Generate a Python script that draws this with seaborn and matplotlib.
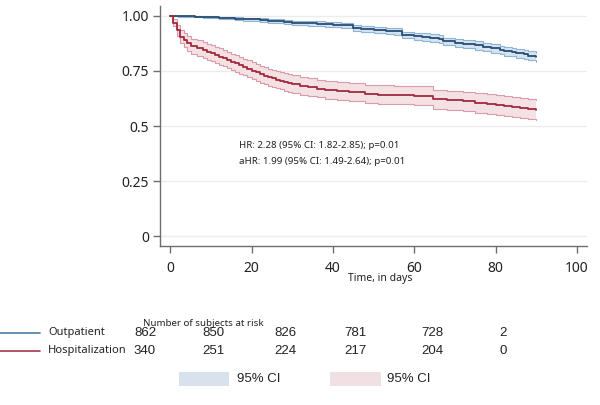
import matplotlib
matplotlib.use("Agg")
import matplotlib.pyplot as plt
import seaborn as sns
import pandas as pd
from matplotlib.patches import Rectangle
from matplotlib.lines import Line2D

# ---------------- data ----------------
groups = ["Outpatient", "Hospitalization"]

out_t = [0, 2, 4, 6, 8, 10, 12, 14, 16, 18, 20, 22, 24, 26, 28, 30, 32, 34, 36, 38, 40, 42, 45, 47,
         50, 53, 55, 57, 60, 62, 64, 66, 67, 70, 72, 75, 77, 79, 81, 82, 84, 85, 87, 88, 90]
out_s = [1.0, 0.999, 0.998, 0.997, 0.995, 0.994, 0.992, 0.990, 0.988, 0.986, 0.984, 0.982, 0.979, 0.976,
         0.973, 0.970, 0.969, 0.967, 0.965, 0.963, 0.960, 0.957, 0.945, 0.941, 0.937, 0.933, 0.930, 0.914,
         0.908, 0.905, 0.900, 0.896, 0.884, 0.878, 0.873, 0.866, 0.860, 0.852, 0.846, 0.840, 0.836, 0.830,
         0.825, 0.819, 0.812]
out_lo = [1.0, 0.997, 0.995, 0.993, 0.990, 0.989, 0.986, 0.984, 0.981, 0.979, 0.976, 0.974, 0.970, 0.967,
          0.963, 0.960, 0.958, 0.956, 0.954, 0.951, 0.948, 0.944, 0.931, 0.927, 0.922, 0.918, 0.915, 0.898,
          0.891, 0.888, 0.883, 0.879, 0.866, 0.860, 0.855, 0.847, 0.841, 0.833, 0.826, 0.820, 0.816, 0.810,
          0.805, 0.798, 0.791]
out_hi = [1.0, 1.0, 1.0, 0.999, 0.998, 0.997, 0.996, 0.995, 0.994, 0.992, 0.990, 0.989, 0.987, 0.984,
          0.982, 0.979, 0.979, 0.977, 0.975, 0.974, 0.971, 0.969, 0.958, 0.954, 0.951, 0.947, 0.944, 0.929,
          0.924, 0.921, 0.916, 0.912, 0.901, 0.895, 0.890, 0.884, 0.878, 0.871, 0.865, 0.859, 0.855, 0.849,
          0.845, 0.839, 0.832]

hosp_t = [0, 0.8, 1.6, 2.5, 3.3, 4.2, 5, 6.5, 8, 9, 10, 11, 12, 13, 14, 15, 16, 17, 18, 19, 20, 21,
          22, 23, 24, 25, 26, 27, 28, 29, 30, 32, 34, 36, 38, 41, 44, 48, 51, 55, 60, 64.6, 68, 72, 75,
          78, 80, 82, 84, 86, 88, 90]
hosp_s = [1.0, 0.97, 0.935, 0.905, 0.89, 0.875, 0.862, 0.855, 0.845, 0.838, 0.830, 0.822, 0.815, 0.808,
          0.80, 0.792, 0.784, 0.776, 0.768, 0.760, 0.752, 0.743, 0.736, 0.729, 0.722, 0.716, 0.711, 0.706,
          0.70, 0.695, 0.69, 0.683, 0.676, 0.670, 0.665, 0.659, 0.653, 0.647, 0.643, 0.640, 0.638, 0.621,
          0.617, 0.612, 0.606, 0.600, 0.595, 0.590, 0.586, 0.582, 0.577, 0.573]
hosp_hi = [1.0, 0.985, 0.96, 0.935, 0.922, 0.908, 0.896, 0.89, 0.88, 0.874, 0.866, 0.858, 0.852, 0.845,
           0.837, 0.829, 0.821, 0.813, 0.806, 0.798, 0.79, 0.781, 0.774, 0.767, 0.760, 0.754, 0.749, 0.744,
           0.739, 0.734, 0.73, 0.723, 0.716, 0.710, 0.705, 0.700, 0.694, 0.688, 0.684, 0.682, 0.680, 0.664,
           0.660, 0.655, 0.650, 0.644, 0.639, 0.635, 0.631, 0.627, 0.622, 0.618]
hosp_lo = [1.0, 0.955, 0.91, 0.875, 0.858, 0.842, 0.828, 0.82, 0.81, 0.802, 0.794, 0.786, 0.779, 0.771,
           0.763, 0.755, 0.747, 0.738, 0.730, 0.722, 0.714, 0.705, 0.697, 0.690, 0.683, 0.677, 0.672, 0.667,
           0.661, 0.656, 0.65, 0.643, 0.636, 0.630, 0.624, 0.618, 0.612, 0.606, 0.601, 0.598, 0.595, 0.577,
           0.573, 0.567, 0.561, 0.555, 0.550, 0.545, 0.541, 0.536, 0.531, 0.526]

risk_out = [862, 850, 826, 781, 728, 2]
risk_hosp = [340, 251, 224, 217, 204, 0]

x_ticks = [0, 20, 40, 60, 80, 100]
y_ticks = [0, 0.25, 0.5, 0.75, 1.0]
y_labels = ["0", "0.25", "0.5", "0.75", "1.00"]
annot_lines = ["HR: 2.28 (95% CI: 1.82-2.85); p=0.01", "aHR: 1.99 (95% CI: 1.49-2.64); p=0.01"]
x_label = "Time, in days"
risk_title = "Number of subjects at risk"
ci_label = "95% CI"

# ---------------- style ----------------
sns.set_theme(style="white")
plt.rcParams["font.family"] = ["Noto Sans", "DejaVu Sans"]
NUMFONT = ["Liberation Sans Narrow", "Liberation Sans", "DejaVu Sans"]

blue_line, blue_fill, blue_edge = "#2b4c73", "#d3e3f0", "#8fb5d6"
red_line, red_fill, red_edge = "#a3283d", "#f3e1e4", "#d99ca8"

fig = plt.figure(figsize=(6.0, 4.05), dpi=100)
ax = fig.add_axes([160 / 600, 1 - 246 / 405, 427 / 600, 240 / 405])

df_out = pd.DataFrame({"t": out_t, "s": out_s, "lo": out_lo, "hi": out_hi})
df_hosp = pd.DataFrame({"t": hosp_t, "s": hosp_s, "lo": hosp_lo, "hi": hosp_hi})

for df, lc, fc, ec in [(df_out, blue_line, blue_fill, blue_edge), (df_hosp, red_line, red_fill, red_edge)]:
    ax.fill_between(df["t"], df["lo"], df["hi"], step="post", color=fc, lw=0, zorder=1)
    sns.lineplot(data=df, x="t", y="lo", drawstyle="steps-post", color=ec, lw=0.8, ax=ax, zorder=2)
    sns.lineplot(data=df, x="t", y="hi", drawstyle="steps-post", color=ec, lw=0.8, ax=ax, zorder=2)
    sns.lineplot(data=df, x="t", y="s", drawstyle="steps-post", color=lc, lw=1.3, ax=ax, zorder=3)

ax.set_xlim(-2.5, 102.5)
ax.set_ylim(-0.045, 1.045)
ax.set_xticks(x_ticks)
ax.set_xticklabels([str(v) for v in x_ticks])
ax.set_yticks(y_ticks)
ax.set_yticklabels(y_labels)
ax.set_xlabel("")
ax.set_ylabel("")
for v in y_ticks:
    ax.axhline(v, color="#ececec", lw=1.0, zorder=0)

for side in ["top", "right"]:
    ax.spines[side].set_visible(False)
for side in ["left", "bottom"]:
    ax.spines[side].set_color("#6e6e6e")
    ax.spines[side].set_linewidth(1.0)
ax.tick_params(axis="both", which="both", direction="out", length=5, width=1.0,
               color="#6e6e6e", labelsize=10, labelcolor="#222222", pad=3)
ax.tick_params(axis="x", pad=6)
ax.tick_params(bottom=True, left=True)

# annotation
for i, line in enumerate(annot_lines):
    ax.text(239 / 600, 1 - (146 + 16 * i) / 405, line, transform=fig.transFigure,
            fontsize=7, color="#222222", va="center", ha="left")

fig.text(380 / 600, 1 - 278 / 405, x_label, fontsize=7.5, color="#222222", ha="center", va="center")

# risk table
fig.text(143 / 600, 1 - 323 / 405, risk_title, fontsize=7, color="#222222", ha="left", va="center")
row_y = [333, 351]
col_x = [145, 213, 285, 355, 432, 503]
for g, yy, lcol, counts in [(groups[0], row_y[0], "#4a7fa8", risk_out),
                            (groups[1], row_y[1], "#a8374b", risk_hosp)]:
    fig.add_artist(Line2D([0, 40 / 600], [1 - yy / 405, 1 - yy / 405], color=lcol, lw=1.2,
                          transform=fig.transFigure))
    fig.text(48 / 600, 1 - yy / 405, g, fontsize=8, color="#222222", ha="left", va="center")
    for cx, c in zip(col_x, counts):
        fig.text(cx / 600, 1 - yy / 405, str(c), fontsize=9.5, family=NUMFONT,
                 color="#222222", ha="center", va="center")

# CI legend patches
for x0, x1, tx, fc in [(179, 229, 237, "#d9e2ec"), (330, 381, 387, "#f1e0e3")]:
    fig.add_artist(Rectangle((x0 / 600, 1 - 386 / 405), (x1 - x0) / 600, 14 / 405,
                             transform=fig.transFigure, facecolor=fc, edgecolor="none"))
    fig.text(tx / 600, 1 - 379 / 405, ci_label, fontsize=9.5, family=NUMFONT,
             color="#222222", ha="left", va="center")

fig.savefig("out.png", dpi=100)
